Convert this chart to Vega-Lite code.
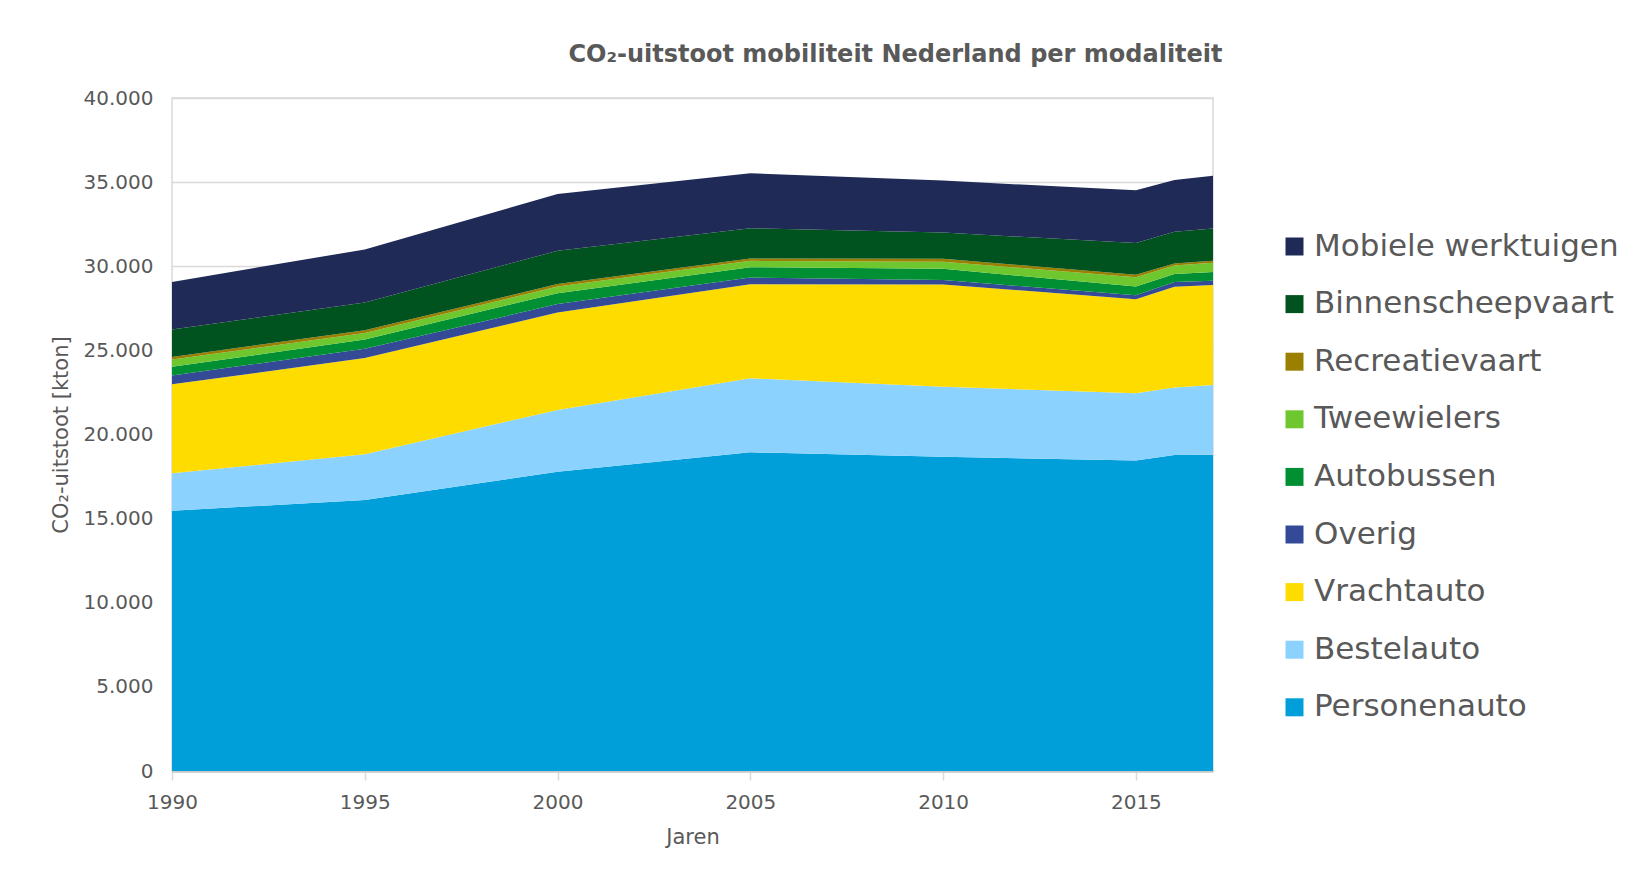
{
  "$schema": "https://vega.github.io/schema/vega-lite/v6.json",
  "autosize": {"type": "none"},
  "padding": {"left": 172, "top": 98, "right": 415, "bottom": 110},
  "width": 1041,
  "height": 673,
  "background": "white",
  "config": {
    "locale": {"number": {"decimal": ",", "thousands": ".", "grouping": [3], "currency": ["€", ""]}},
    "font": "DejaVu Sans",
    "view": {"stroke": "#d9d9d9", "strokeWidth": 1.5}
  },
  "title": {
    "text": "CO₂-uitstoot mobiliteit Nederland per modaliteit",
    "font": "DejaVu Sans",
    "fontSize": 24,
    "fontWeight": "bold",
    "color": "#595959",
    "anchor": "middle",
    "dx": 203,
    "offset": 21
  },
  "data": {
    "values": [
      {"jaar": 1990, "m": "Personenauto", "r": 1, "v": 15470},
      {"jaar": 1990, "m": "Bestelauto", "r": 2, "v": 2220},
      {"jaar": 1990, "m": "Vrachtauto", "r": 3, "v": 5290},
      {"jaar": 1990, "m": "Overig", "r": 4, "v": 530},
      {"jaar": 1990, "m": "Autobussen", "r": 5, "v": 510},
      {"jaar": 1990, "m": "Tweewielers", "r": 6, "v": 440},
      {"jaar": 1990, "m": "Recreatievaart", "r": 7, "v": 150},
      {"jaar": 1990, "m": "Binnenscheepvaart", "r": 8, "v": 1630},
      {"jaar": 1990, "m": "Mobiele werktuigen", "r": 9, "v": 2830},
      {"jaar": 1995, "m": "Personenauto", "r": 1, "v": 16110},
      {"jaar": 1995, "m": "Bestelauto", "r": 2, "v": 2720},
      {"jaar": 1995, "m": "Vrachtauto", "r": 3, "v": 5710},
      {"jaar": 1995, "m": "Overig", "r": 4, "v": 550},
      {"jaar": 1995, "m": "Autobussen", "r": 5, "v": 560},
      {"jaar": 1995, "m": "Tweewielers", "r": 6, "v": 390},
      {"jaar": 1995, "m": "Recreatievaart", "r": 7, "v": 160},
      {"jaar": 1995, "m": "Binnenscheepvaart", "r": 8, "v": 1650},
      {"jaar": 1995, "m": "Mobiele werktuigen", "r": 9, "v": 3150},
      {"jaar": 2000, "m": "Personenauto", "r": 1, "v": 17790},
      {"jaar": 2000, "m": "Bestelauto", "r": 2, "v": 3670},
      {"jaar": 2000, "m": "Vrachtauto", "r": 3, "v": 5790},
      {"jaar": 2000, "m": "Overig", "r": 4, "v": 500},
      {"jaar": 2000, "m": "Autobussen", "r": 5, "v": 650},
      {"jaar": 2000, "m": "Tweewielers", "r": 6, "v": 400},
      {"jaar": 2000, "m": "Recreatievaart", "r": 7, "v": 140},
      {"jaar": 2000, "m": "Binnenscheepvaart", "r": 8, "v": 1980},
      {"jaar": 2000, "m": "Mobiele werktuigen", "r": 9, "v": 3370},
      {"jaar": 2005, "m": "Personenauto", "r": 1, "v": 18940},
      {"jaar": 2005, "m": "Bestelauto", "r": 2, "v": 4400},
      {"jaar": 2005, "m": "Vrachtauto", "r": 3, "v": 5590},
      {"jaar": 2005, "m": "Overig", "r": 4, "v": 400},
      {"jaar": 2005, "m": "Autobussen", "r": 5, "v": 610},
      {"jaar": 2005, "m": "Tweewielers", "r": 6, "v": 380},
      {"jaar": 2005, "m": "Recreatievaart", "r": 7, "v": 140},
      {"jaar": 2005, "m": "Binnenscheepvaart", "r": 8, "v": 1800},
      {"jaar": 2005, "m": "Mobiele werktuigen", "r": 9, "v": 3270},
      {"jaar": 2010, "m": "Personenauto", "r": 1, "v": 18680},
      {"jaar": 2010, "m": "Bestelauto", "r": 2, "v": 4160},
      {"jaar": 2010, "m": "Vrachtauto", "r": 3, "v": 6080},
      {"jaar": 2010, "m": "Overig", "r": 4, "v": 260},
      {"jaar": 2010, "m": "Autobussen", "r": 5, "v": 670},
      {"jaar": 2010, "m": "Tweewielers", "r": 6, "v": 420},
      {"jaar": 2010, "m": "Recreatievaart", "r": 7, "v": 180},
      {"jaar": 2010, "m": "Binnenscheepvaart", "r": 8, "v": 1550},
      {"jaar": 2010, "m": "Mobiele werktuigen", "r": 9, "v": 3090},
      {"jaar": 2015, "m": "Personenauto", "r": 1, "v": 18450},
      {"jaar": 2015, "m": "Bestelauto", "r": 2, "v": 4000},
      {"jaar": 2015, "m": "Vrachtauto", "r": 3, "v": 5590},
      {"jaar": 2015, "m": "Overig", "r": 4, "v": 240},
      {"jaar": 2015, "m": "Autobussen", "r": 5, "v": 520},
      {"jaar": 2015, "m": "Tweewielers", "r": 6, "v": 540},
      {"jaar": 2015, "m": "Recreatievaart", "r": 7, "v": 160},
      {"jaar": 2015, "m": "Binnenscheepvaart", "r": 8, "v": 1880},
      {"jaar": 2015, "m": "Mobiele werktuigen", "r": 9, "v": 3130},
      {"jaar": 2016, "m": "Personenauto", "r": 1, "v": 18780},
      {"jaar": 2016, "m": "Bestelauto", "r": 2, "v": 4020},
      {"jaar": 2016, "m": "Vrachtauto", "r": 3, "v": 5980},
      {"jaar": 2016, "m": "Overig", "r": 4, "v": 280},
      {"jaar": 2016, "m": "Autobussen", "r": 5, "v": 480},
      {"jaar": 2016, "m": "Tweewielers", "r": 6, "v": 510},
      {"jaar": 2016, "m": "Recreatievaart", "r": 7, "v": 120},
      {"jaar": 2016, "m": "Binnenscheepvaart", "r": 8, "v": 1880},
      {"jaar": 2016, "m": "Mobiele werktuigen", "r": 9, "v": 3070},
      {"jaar": 2017, "m": "Personenauto", "r": 1, "v": 18800},
      {"jaar": 2017, "m": "Bestelauto", "r": 2, "v": 4140},
      {"jaar": 2017, "m": "Vrachtauto", "r": 3, "v": 5940},
      {"jaar": 2017, "m": "Overig", "r": 4, "v": 260},
      {"jaar": 2017, "m": "Autobussen", "r": 5, "v": 520},
      {"jaar": 2017, "m": "Tweewielers", "r": 6, "v": 550},
      {"jaar": 2017, "m": "Recreatievaart", "r": 7, "v": 120},
      {"jaar": 2017, "m": "Binnenscheepvaart", "r": 8, "v": 1920},
      {"jaar": 2017, "m": "Mobiele werktuigen", "r": 9, "v": 3130}
    ]
  },
  "mark": {"type": "area", "interpolate": "linear"},
  "encoding": {
    "x": {
      "field": "jaar",
      "type": "quantitative",
      "scale": {"domain": [1990, 2017], "nice": false, "zero": false},
      "axis": {
        "values": [1990, 1995, 2000, 2005, 2010, 2015],
        "format": "d",
        "title": "Jaren",
        "grid": false,
        "labelFlush": false,
        "domainColor": "#c8c8c8",
        "domainWidth": 2.5,
        "tickColor": "#d9d9d9",
        "tickWidth": 1.5,
        "tickSize": 9,
        "labelPadding": 12,
        "labelFont": "DejaVu Sans",
        "labelFontSize": 20,
        "labelColor": "#595959",
        "titleFont": "DejaVu Sans",
        "titleFontSize": 21,
        "titleFontWeight": "normal",
        "titleColor": "#595959",
        "titlePadding": 14
      }
    },
    "y": {
      "field": "v",
      "type": "quantitative",
      "stack": "zero",
      "scale": {"domain": [0, 40000], "nice": false},
      "axis": {
        "values": [0, 5000, 10000, 15000, 20000, 25000, 30000, 35000, 40000],
        "format": ",d",
        "title": "CO₂-uitstoot [kton]",
        "grid": true,
        "gridColor": "#d9d9d9",
        "gridWidth": 1.5,
        "domain": false,
        "ticks": false,
        "labelPadding": 19,
        "labelFont": "DejaVu Sans",
        "labelFontSize": 20,
        "labelColor": "#595959",
        "titleFont": "DejaVu Sans",
        "titleFontSize": 21,
        "titleFontWeight": "normal",
        "titleColor": "#595959",
        "titlePadding": 12
      }
    },
    "color": {
      "field": "m",
      "type": "nominal",
      "scale": {
        "domain": ["Mobiele werktuigen", "Binnenscheepvaart", "Recreatievaart", "Tweewielers", "Autobussen", "Overig", "Vrachtauto", "Bestelauto", "Personenauto"],
        "range": ["#1f2a56", "#00531f", "#9a7f00", "#6ec72f", "#009033", "#344a96", "#ffdc00", "#8cd2ff", "#009fd9"]
      },
      "legend": {
        "title": null,
        "orient": "none",
        "legendX": 1107,
        "legendY": 133,
        "padding": 0,
        "symbolType": "square",
        "symbolSize": 324,
        "symbolStrokeWidth": 0,
        "symbolOpacity": 1,
        "labelFont": "DejaVu Sans",
        "labelFontSize": 31,
        "labelColor": "#595959",
        "labelOffset": 4,
        "labelLimit": 400,
        "rowPadding": 25.6
      }
    },
    "order": {"field": "r", "type": "quantitative", "sort": "ascending"}
  }
}
